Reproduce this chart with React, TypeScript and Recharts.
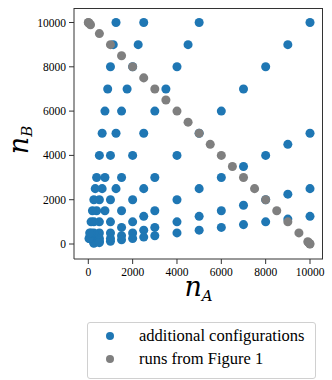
import { ScatterChart, Scatter, XAxis, YAxis, ZAxis } from 'recharts';

// blue: additional configurations (nA, nB)
const additionalNA = [
  250, 250, 250, 250, 125, 62.5, 31.25,
  500, 500, 500, 500, 250, 125, 62.5,
  1000, 1000, 1000, 1000, 500, 250, 125,
  1500, 1500, 1500, 1500, 750, 375, 187.5,
  2000, 2000, 2000, 2000, 1000, 500, 250,
  2500, 2500, 2500, 2500, 1250, 625, 312.5,
  3000, 3000, 3000, 3000, 1500, 750, 375,
  4000, 4000, 4000, 4000, 2000, 1000, 500,
  5000, 5000, 5000, 5000, 2500, 1250, 625,
  6000, 6000, 6000, 6000, 3000, 1500, 750,
  7000, 7000, 7000, 7000, 3500, 1750, 875,
  8000, 8000, 8000, 8000, 4000, 2000, 1000,
  9000, 9000, 9000, 9000, 4500, 2250, 1125,
  10000, 10000, 10000, 10000, 5000, 2500, 1250,
];
const additionalNB = [
  250, 125, 62.5, 31.25, 250, 250, 250,
  500, 250, 125, 62.5, 500, 500, 500,
  1000, 500, 250, 125, 1000, 1000, 1000,
  1500, 750, 375, 187.5, 1500, 1500, 1500,
  2000, 1000, 500, 250, 2000, 2000, 2000,
  2500, 1250, 625, 312.5, 2500, 2500, 2500,
  3000, 1500, 750, 375, 3000, 3000, 3000,
  4000, 2000, 1000, 500, 4000, 4000, 4000,
  5000, 2500, 1250, 625, 5000, 5000, 5000,
  6000, 3000, 1500, 750, 6000, 6000, 6000,
  7000, 3500, 1750, 875, 7000, 7000, 7000,
  8000, 4000, 2000, 1000, 8000, 8000, 8000,
  9000, 4500, 2250, 1125, 9000, 9000, 9000,
  10000, 5000, 2500, 1250, 10000, 10000, 10000,
];

// grey: runs from Figure 1
const figure1NA = [
  1, 10, 50, 100, 500, 1000, 1500, 2000, 2500, 3000, 3500, 4000, 4500, 5000,
  5500, 6000, 6500, 7000, 7500, 8000, 8500, 9000, 9500, 9900, 9950, 9990, 9999,
];
const figure1NB = [
  9999, 9990, 9950, 9900, 9500, 9000, 8500, 8000, 7500, 7000, 6500, 6000, 5500, 5000,
  4500, 4000, 3500, 3000, 2500, 2000, 1500, 1000, 500, 100, 50, 10, 1,
];

const axisTicks = [0, 2000, 4000, 6000, 8000, 10000];

const BLUE = '#1f77b4';
const GREY = '#7f7f7f';
const SPINE = '#333';
const SERIF = 'Liberation Serif, Times New Roman, Times, DejaVu Serif, serif';
const MATH = 'DejaVu Serif, serif';

const X_DOMAIN = [-645, 10586];
const Y_DOMAIN = [-677, 10655];

const additional = additionalNA.map((x, i) => ({ nA: x, nB: additionalNB[i] }));
const figure1 = figure1NA.map((x, i) => ({ nA: x, nB: figure1NB[i] }));

function XLabel({ viewBox }: any) {
  const cx = viewBox.x + viewBox.width / 2;
  return (
    <text x={cx} y={296} textAnchor="middle" fontFamily={MATH} fontStyle="italic" fontSize={27} fill="#000">
      n<tspan fontSize={15} dy={5}>A</tspan>
    </text>
  );
}

function YLabel() {
  return (
    <text
      x={0}
      y={0}
      transform="translate(28,140) rotate(-90)"
      textAnchor="middle"
      fontFamily={MATH}
      fontStyle="italic"
      fontSize={27}
      fill="#000"
    >
      n<tspan fontSize={15} dy={4}>B</tspan>
    </text>
  );
}

function LegendBox() {
  const rows = [
    { color: BLUE, label: 'additional configurations' },
    { color: GREY, label: 'runs from Figure 1' },
  ];
  return (
    <div
      style={{
        position: 'absolute',
        left: 87,
        top: 322,
        width: 229,
        height: 57,
        boxSizing: 'border-box',
        border: '1px solid #d0d0d0',
        borderRadius: 3,
        background: '#fff',
        fontFamily: SERIF,
        fontSize: 16.5,
        color: '#000',
      }}
    >
      {rows.map((r, i) => (
        <div key={r.label} style={{ position: 'absolute', left: 0, top: 1 + i * 23, height: 23, display: 'flex', alignItems: 'center', whiteSpace: 'nowrap' }}>
          <span
            style={{
              display: 'inline-block',
              width: 8,
              height: 8,
              borderRadius: 4,
              background: r.color,
              marginLeft: 18,
              marginRight: 25,
            }}
          />
          <span>{r.label}</span>
        </div>
      ))}
    </div>
  );
}

export default function App() {
  return (
    <div style={{ position: 'absolute', left: 0, top: 0, width: 332, height: 380, background: '#fff' }}>
      <ScatterChart width={332} height={380} margin={{ top: 8, right: 9, bottom: 0, left: 0 }}>
        <XAxis
          type="number"
          dataKey="nA"
          domain={X_DOMAIN}
          ticks={axisTicks}
          interval={0}
          allowDataOverflow
          height={121}
          tickSize={5}
          tickMargin={3.5}
          stroke={SPINE}
          tick={{ fill: '#000', fontSize: 11.5, fontFamily: SERIF }}
          label={<XLabel />}
        />
        <YAxis
          type="number"
          dataKey="nB"
          domain={Y_DOMAIN}
          ticks={axisTicks}
          interval={0}
          allowDataOverflow
          width={74}
          tickSize={5}
          tickMargin={3}
          stroke={SPINE}
          tick={{ fill: '#000', fontSize: 11.5, fontFamily: SERIF }}
          label={<YLabel />}
        />
        <ZAxis type="number" range={[56, 56]} />
        <Scatter name="additional configurations" data={additional} fill={BLUE} isAnimationActive={false} />
        <Scatter name="runs from Figure 1" data={figure1} fill={GREY} isAnimationActive={false} />
      </ScatterChart>
      {/* top and right spines of the axes box */}
      <div
        style={{
          position: 'absolute',
          left: 74,
          top: 8,
          width: 249,
          height: 251,
          boxSizing: 'border-box',
          borderTop: `1px solid ${SPINE}`,
          borderRight: `1px solid ${SPINE}`,
          pointerEvents: 'none',
        }}
      />
      <LegendBox />
    </div>
  );
}
